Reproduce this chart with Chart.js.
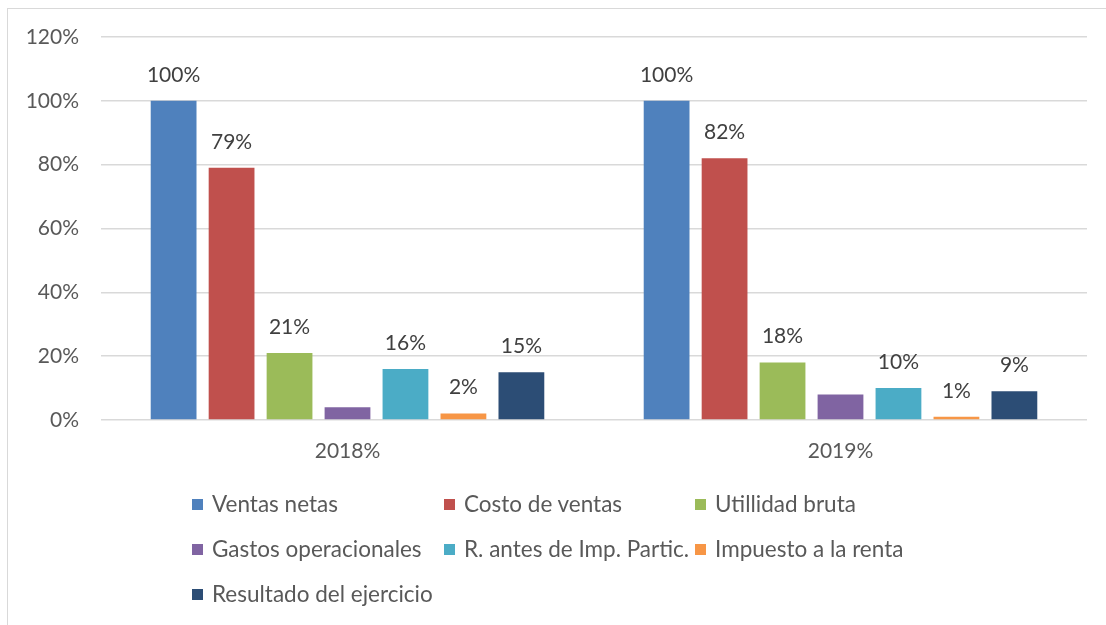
<!DOCTYPE html>
<html>
<head>
<meta charset="utf-8">
<script src="https://cdn.jsdelivr.net/npm/chart.js@4.4.0/dist/chart.umd.min.js"></script>
<style>
  html, body { margin: 0; padding: 0; background: #fff; }
  #wrap { position: relative; width: 1106px; height: 625px; overflow: hidden; }
  #frame { position: absolute; left: 7px; top: 8px; width: 1110px; height: 630px;
           border: 1.5px solid #d9d9d9; box-sizing: border-box; }
  #chartCanvas { position: absolute; left: 0; top: 0; }
  .leg { position: absolute; font-family: Lato, "Liberation Sans", sans-serif; font-size: 22.5px;
         color: #595959; white-space: nowrap; line-height: 24px; }
  .leg span { position: absolute; left: -20px; top: 7px; width: 11px; height: 11px; }
</style>
</head>
<body>
<div id="wrap">
  <div id="frame"></div>
  <canvas id="chartCanvas" width="1106" height="625"></canvas>
  <div id="legend"></div>
</div>
<script>
// ------- Data -------
const categories = ["2018%", "2019%"];
const seriesNames = [
  "Ventas netas",
  "Costo de ventas",
  "Utillidad bruta",
  "Gastos operacionales",
  "R. antes de Imp. Partic.",
  "Impuesto a la renta",
  "Resultado del ejercicio"
];
const ventasNetas = [100, 100];
const costoVentas = [79, 82];
const utilidadBruta = [21, 18];
const gastosOperacionales = [4, 8];
const resultadoAntes = [16, 10];
const impuestoRenta = [2, 1];
const resultadoEjercicio = [15, 9];
const seriesColors = ["#4F81BD", "#C0504D", "#9BBB59", "#8064A2", "#4BACC6", "#F79646", "#2C4D75"];
const labelShown = [true, true, true, false, true, true, true];
const yTicks = [0, 20, 40, 60, 80, 100, 120];

const seriesValues = [ventasNetas, costoVentas, utilidadBruta, gastosOperacionales,
                      resultadoAntes, impuestoRenta, resultadoEjercicio];

const FONT = 'Lato, "Liberation Sans", sans-serif';

// ------- Value labels above bars -------
const valueLabels = {
  id: "valueLabels",
  afterDatasetsDraw(chart) {
    const ctx = chart.ctx;
    ctx.save();
    ctx.font = "21px " + FONT;
    ctx.fillStyle = "#404040";
    ctx.textAlign = "center";
    ctx.textBaseline = "middle";
    chart.data.datasets.forEach((ds, i) => {
      if (!labelShown[i]) return;
      chart.getDatasetMeta(i).data.forEach((bar, j) => {
        ctx.fillText(ds.data[j] + "%", bar.x, bar.y - 26);
      });
    });
    ctx.restore();
  }
};

// ------- Chart -------
const ctx = document.getElementById("chartCanvas").getContext("2d");
new Chart(ctx, {
  type: "bar",
  data: {
    labels: categories,
    datasets: seriesNames.map((name, i) => ({
      label: name,
      data: seriesValues[i],
      backgroundColor: seriesColors[i],
      categoryPercentage: 0.823,
      barPercentage: 0.79
    }))
  },
  options: {
    responsive: false,
    animation: false,
    layout: { padding: { top: 37, right: 19, left: 1, bottom: 0 } },
    plugins: {
      legend: { display: false },
      tooltip: { enabled: false }
    },
    scales: {
      x: {
        grid: { display: false },
        border: { display: false },
        ticks: { color: "#595959", font: { family: FONT, size: 21 }, padding: 11 },
        afterFit(scale) { scale.height = 205; }
      },
      y: {
        min: 0,
        max: 120,
        afterBuildTicks(scale) { scale.ticks = yTicks.map(v => ({ value: v })); },
        grid: { color: "#d9d9d9", lineWidth: 1.5, drawTicks: false },
        border: { display: false },
        ticks: {
          color: "#595959",
          font: { family: FONT, size: 21 },
          padding: 22,
          callback: (v) => v + "%"
        },
        afterFit(scale) { scale.width = 100; }
      }
    }
  },
  plugins: [valueLabels]
});

// ------- Legend (3 columns) -------
const legendEl = document.getElementById("legend");
const colX = [212, 464, 715];
const rowY = [492, 537, 582];
seriesNames.forEach((name, i) => {
  const item = document.createElement("div");
  item.className = "leg";
  item.style.left = colX[i % 3] + "px";
  item.style.top = rowY[Math.floor(i / 3)] + "px";
  const sw = document.createElement("span");
  sw.style.background = seriesColors[i];
  item.appendChild(sw);
  item.appendChild(document.createTextNode(name));
  legendEl.appendChild(item);
});
</script>
</body>
</html>
